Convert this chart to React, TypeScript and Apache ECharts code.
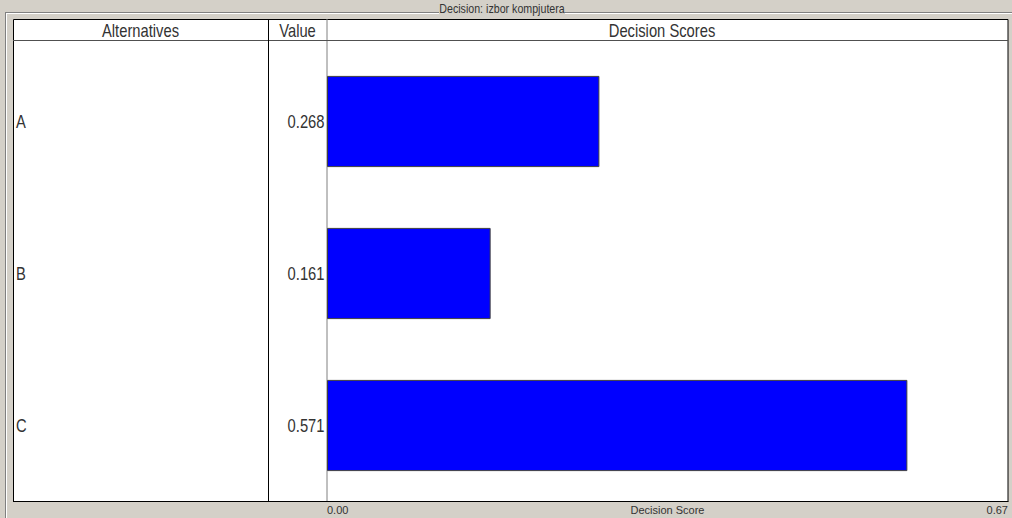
import React, { useEffect, useRef } from "react";
import * as echarts from "echarts";

const categories = ["A", "B", "C"];
const scores = [0.268, 0.161, 0.571];
const axisMax = 0.67;
const titleText = "Decision: izbor kompjutera";
const headerLabels = ["Alternatives", "Value", "Decision Scores"];
const axisName = "Decision Score";

const FONT = "'Liberation Sans', Arial, sans-serif";
const NARROW = 0.82;
const TEXT = "#333";

export default function App() {
  const ref = useRef<HTMLDivElement>(null);
  useEffect(() => {
    if (!ref.current) return;
    const chart = echarts.init(ref.current, null, { renderer: "svg" });
    const valueLabels = scores.map((v) => v.toFixed(3));
    const grey = "#808080";
    const headerText = (text: string, x: number) => ({
      type: "text",
      z: 10,
      x,
      y: 30,
      scaleX: NARROW,
      style: { text, fill: TEXT, font: `18px ${FONT}`, textAlign: "center", textVerticalAlign: "middle" },
    });
    const option: any = {
      animation: false,
      backgroundColor: "#d4d0c8",
      textStyle: { fontFamily: FONT },
      grid: {
        left: 327,
        right: 4,
        top: 45.5,
        bottom: 16.5,
        containLabel: false,
        outerBoundsMode: "none",
      },
      xAxis: {
        type: "value",
        min: 0,
        max: axisMax,
        interval: axisMax,
        axisLine: { show: false },
        axisTick: { show: false },
        splitLine: { show: false },
        axisLabel: {
          formatter: (v: number) => v.toFixed(2),
          fontSize: 11,
          color: TEXT,
          margin: 3,
          fontFamily: FONT,
          alignMinLabel: "left",
          alignMaxLabel: "right",
        },
        name: axisName,
        nameLocation: "middle",
        nameGap: 3,
        nameMoveOverlap: false,
        nameTextStyle: { fontSize: 11, color: TEXT, fontFamily: FONT, verticalAlign: "top" },
      },
      yAxis: {
        type: "category",
        data: categories,
        inverse: true,
        axisLine: { show: false },
        axisTick: { show: false },
        splitLine: { show: false },
        axisLabel: { show: false },
      },
      series: [
        {
          type: "bar",
          data: scores,
          barWidth: "60%",
          z: 5,
          itemStyle: { color: "#0000ff", borderColor: "#404040", borderWidth: 1 },
        },
        {
          type: "custom",
          clip: false,
          z: 10,
          silent: true,
          data: categories.map((c, i) => [0, c]),
          renderItem: (params: any, api: any) => {
            const i = params.dataIndex;
            const y = api.coord([0, api.value(1)])[1];
            return {
              type: "group",
              children: [
                {
                  type: "text",
                  x: 16,
                  y,
                  scaleX: NARROW,
                  style: { text: categories[i], fill: TEXT, font: `18px ${FONT}`, textAlign: "left", textVerticalAlign: "middle" },
                },
                {
                  type: "text",
                  x: 324.5,
                  y,
                  scaleX: NARROW,
                  style: { text: valueLabels[i], fill: TEXT, font: `18px ${FONT}`, textAlign: "right", textVerticalAlign: "middle" },
                },
              ],
            };
          },
        },
      ],
      graphic: [
        // group box
        { type: "line", z: 1, shape: { x1: 5, y1: 12.5, x2: 439, y2: 12.5 }, style: { stroke: grey, lineWidth: 1 } },
        { type: "line", z: 1, shape: { x1: 6, y1: 13.5, x2: 439, y2: 13.5 }, style: { stroke: "#ffffff", lineWidth: 1 } },
        { type: "line", z: 1, shape: { x1: 565, y1: 12.5, x2: 1012, y2: 12.5 }, style: { stroke: grey, lineWidth: 1 } },
        { type: "line", z: 1, shape: { x1: 565, y1: 13.5, x2: 1012, y2: 13.5 }, style: { stroke: "#ffffff", lineWidth: 1 } },
        { type: "line", z: 1, shape: { x1: 5.5, y1: 12, x2: 5.5, y2: 518 }, style: { stroke: grey, lineWidth: 1 } },
        { type: "line", z: 1, shape: { x1: 6.5, y1: 13, x2: 6.5, y2: 518 }, style: { stroke: "#ffffff", lineWidth: 1 } },
        {
          type: "text",
          z: 1,
          x: 502,
          y: 8.5,
          scaleX: NARROW,
          style: { text: titleText, fill: TEXT, font: `13px ${FONT}`, textAlign: "center", textVerticalAlign: "middle" },
        },
        // table
        {
          type: "rect",
          z: 0,
          shape: { x: 13.5, y: 19.5, width: 994.5, height: 482 },
          style: { fill: "#ffffff", stroke: "#000000", lineWidth: 1 },
        },
        { type: "line", z: 10, shape: { x1: 13, y1: 40.5, x2: 1008, y2: 40.5 }, style: { stroke: "#505050", lineWidth: 1 } },
        { type: "line", z: 10, shape: { x1: 268.5, y1: 19, x2: 268.5, y2: 502 }, style: { stroke: "#000000", lineWidth: 1 } },
        { type: "line", z: 1, shape: { x1: 327, y1: 19, x2: 327, y2: 502 }, style: { stroke: grey, lineWidth: 1 } },
        { type: "line", z: 10, shape: { x1: 13, y1: 501.5, x2: 1008.5, y2: 501.5 }, style: { stroke: "#000000", lineWidth: 1 } },
        headerText(headerLabels[0], 140.5),
        headerText(headerLabels[1], 297.5),
        headerText(headerLabels[2], 662),
      ],
    };
    chart.setOption(option);
    return () => chart.dispose();
  }, []);
  return (
    <div
      ref={ref}
      style={{ position: "fixed", left: 0, top: 0, width: 1012, height: 518 }}
    />
  );
}
